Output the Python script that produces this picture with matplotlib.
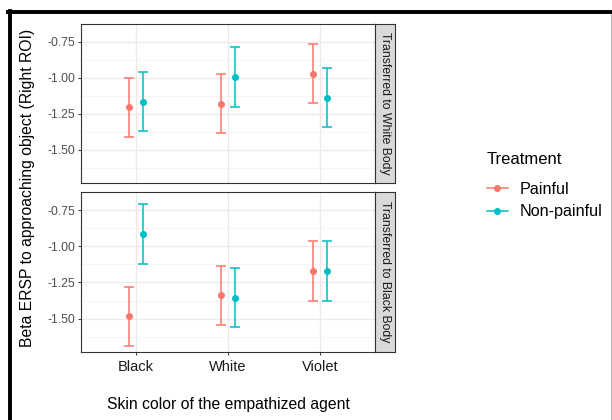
import numpy as np
import matplotlib.pyplot as plt
from matplotlib.lines import Line2D

plt.rcParams['font.family'] = ['Liberation Sans', 'DejaVu Sans']

# data
agents = ['Black', 'White', 'Violet']
treatments = ['Painful', 'Non-painful']
panels = ['Transferred to White Body', 'Transferred to Black Body']
colors = ['#F8766D', '#00BFC4']

# Transferred to White Body
wb_pain_mean = [-1.204, -1.179, -0.971]
wb_pain_lo = [-1.410, -1.383, -1.177]
wb_pain_hi = [-1.000, -0.971, -0.766]
wb_nonp_mean = [-1.166, -0.996, -1.139]
wb_nonp_lo = [-1.371, -1.199, -1.342]
wb_nonp_hi = [-0.960, -0.788, -0.931]

# Transferred to Black Body
bb_pain_mean = [-1.480, -1.339, -1.171]
bb_pain_lo = [-1.686, -1.545, -1.375]
bb_pain_hi = [-1.278, -1.133, -0.965]
bb_nonp_mean = [-0.913, -1.357, -1.171]
bb_nonp_lo = [-1.119, -1.560, -1.375]
bb_nonp_hi = [-0.707, -1.153, -0.965]

yticks = [-0.75, -1.00, -1.25, -1.50]

panel_data = [
    [(wb_pain_mean, wb_pain_lo, wb_pain_hi), (wb_nonp_mean, wb_nonp_lo, wb_nonp_hi)],
    [(bb_pain_mean, bb_pain_lo, bb_pain_hi), (bb_nonp_mean, bb_nonp_lo, bb_nonp_hi)],
]

W, H = 612, 420
fig = plt.figure(figsize=(W / 100, H / 100), dpi=100)

def fx(px):
    return px / W

def fy(py):
    return 1 - py / H

# panel boxes in pixels: (left, top, right, bottom)
boxes = [(81, 24, 375, 183), (81, 192, 375, 352)]
x = np.arange(1, len(agents) + 1)
dodge = 0.075

for i, (l, t, r, b) in enumerate(boxes):
    ax = fig.add_axes([fx(l), fy(b), fx(r - l), (b - t) / H])
    for j, (m, lo, hi) in enumerate(panel_data[i]):
        m = np.array(m); lo = np.array(lo); hi = np.array(hi)
        ax.errorbar(x + (j - 0.5) * 2 * dodge, m, yerr=[m - lo, hi - m],
                    fmt='o', color=colors[j], ms=4, elinewidth=1.1,
                    capsize=3.4, capthick=1.1, zorder=3)
    ax.set_xlim(0.4, 3.6)
    ax.set_ylim(-1.73, -0.662)
    ax.set_yticks(yticks)
    ax.set_yticklabels([f'{v:.2f}' for v in yticks])
    ax.set_yticks([-0.625, -0.875, -1.125, -1.375, -1.625], minor=True)
    ax.set_xticks(x)
    ax.grid(True, which='major', color='#EBEBEB', lw=1.0)
    ax.grid(True, which='minor', axis='y', color='#F3F3F3', lw=0.6)
    ax.set_axisbelow(True)
    for s in ax.spines.values():
        s.set_color('#333333')
        s.set_linewidth(0.8)
    ax.tick_params(axis='y', which='major', labelsize=8.7, colors='#333333',
                   labelcolor='#4D4D4D', length=2.5, width=0.7, pad=1.5)
    ax.tick_params(axis='y', which='minor', length=0)
    if i == 0:
        ax.tick_params(axis='x', length=0, labelbottom=False)
    else:
        ax.set_xticklabels(agents)
        ax.tick_params(axis='x', labelsize=10.5, colors='#333333',
                       labelcolor='#1A1A1A', length=2.5, width=0.7, pad=3)

    # facet strip
    sa = fig.add_axes([fx(r), fy(b), fx(20), (b - t) / H])
    sa.set_facecolor('#D9D9D9')
    sa.set_xticks([]); sa.set_yticks([])
    for s in sa.spines.values():
        s.set_color('#333333')
        s.set_linewidth(0.8)
    sa.text(0.5, 0.5, panels[i], rotation=-90, ha='center', va='center',
            fontsize=8.8, color='#1A1A1A', transform=sa.transAxes)

fig.text(fx(28), fy(188), 'Beta ERSP to approaching object (Right ROI)',
         rotation=90, ha='center', va='center', fontsize=11.3, color='black')
fig.text(fx(228), fy(404), 'Skin color of the empathized agent',
         ha='center', va='center', fontsize=11.3, color='black')

# legend
fig.text(fx(487), fy(160), 'Treatment', ha='left', va='center',
         fontsize=12, color='black')
handles = [Line2D([], [], color=c, marker='o', ms=4, lw=1.1) for c in colors]
fig.legend(handles, treatments, loc='upper left',
           bbox_to_anchor=(fx(487), fy(182)), frameon=False, borderpad=0,
           borderaxespad=0, fontsize=11.6, handlelength=1.3,
           handletextpad=0.7, labelspacing=0.45)

# outer frame of the original figure
fig.add_artist(Line2D([fx(8), 1], [fy(12), fy(12)], color='black', lw=2.8))
fig.add_artist(Line2D([fx(10), fx(10)], [fy(10.6), 0], color='black', lw=2.8))
fig.add_artist(Line2D([fx(610.7), fx(610.7)], [fy(14), 0], color='#BBBBBB', lw=0.8))

fig.savefig('out.png', dpi=100)
